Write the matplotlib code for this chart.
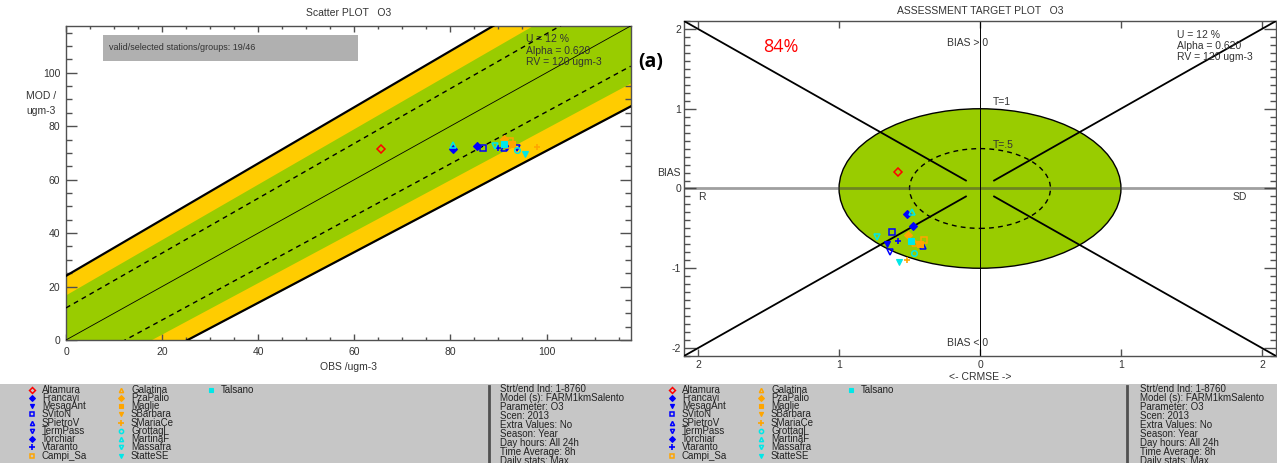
import numpy as np
import matplotlib
matplotlib.use("Agg")
import matplotlib.pyplot as plt
from matplotlib.patches import Ellipse, Rectangle
from matplotlib.ticker import MultipleLocator, FixedLocator, FuncFormatter

plt.rcParams['font.family'] = ['Liberation Sans', 'DejaVu Sans']
plt.rcParams['axes.unicode_minus'] = False

# ---- station statistics -------------------------------------------------
stations = ["Altamura", "Francavi", "MesagAnt", "SVitoN", "SPietroV", "TermPass",
            "Torchiar", "Vtaranto", "Campi_Sa", "Galatina", "PzaPalio", "Maglie",
            "SBarbara", "SMariaCe", "Grottagl", "MartinaF", "Massafra", "StatteSE",
            "Talsano"]
obs_mean = [65.6, 80.6, 91.8, 86.8, 91.2, 93.9, 85.5, 90.0, 92.3, 92.0, 91.2, 92.8,
            92.5, 98.0, 93.8, 80.6, 89.3, 95.5, 91.2]
mod_mean = [71.4, 71.6, 72.2, 71.9, 71.7, 71.8, 72.7, 71.7, 74.3, 73.0, 75.1, 73.2,
            73.4, 72.3, 71.2, 73.0, 72.6, 69.6, 73.4]
target_crmse = [-0.58, -0.516, -0.66, -0.624, -0.404, -0.635, -0.473, -0.58, -0.40,
                -0.46, -0.51, -0.425, -0.44, -0.516, -0.466, -0.48, -0.728, -0.577, -0.49]
target_bias = [0.21, -0.32, -0.70, -0.545, -0.725, -0.79, -0.475, -0.654, -0.64,
               -0.68, -0.58, -0.70, -0.69, -0.90, -0.81, -0.29, -0.61, -0.925, -0.66]

RED, BLUE, ORANGE, CYAN = "#ff0000", "#0000ff", "#ffa500", "#00e8e8"
colors = [RED] + [BLUE] * 7 + [ORANGE] * 6 + [CYAN] * 5
markers = ["D", "D", "v", "s", "^", "v", "D", "+", "s", "^", "D", "s", "v", "+",
           "o", "^", "v", "v", "s"]
filled = [False, True, True, False, False, False, True, True, False, False, True, True,
          True, True, False, False, False, True, True]

U_PCT = 12
ALPHA = 0.620
RV = 120
n_valid, n_selected = 19, 46
info_lines = ["Strt/end Ind: 1-8760", "Model (s): FARM1kmSalento", "Parameter: O3",
              "Scen: 2013", "Extra Values: No", "Season: Year", "Day hours: All 24h",
              "Time Average: 8h", "Daily stats: Max"]

GREEN = "#99cc00"
YELLOW = "#ffcc00"
AXCOL = "#505050"
TXT = "#333333"
W, H = 1277, 463

fig = plt.figure(figsize=(W / 100, H / 100), dpi=100)


def marker_kw(i, size):
    c = colors[i]
    m = markers[i]
    if m == "+":
        return dict(marker=m, color=c, markersize=size + 1, markeredgewidth=1.2, linestyle="none")
    if filled[i]:
        return dict(marker=m, markerfacecolor=c, markeredgecolor=c, markersize=size,
                    markeredgewidth=0.8, linestyle="none")
    return dict(marker=m, markerfacecolor="none", markeredgecolor=c, markersize=size,
                markeredgewidth=1.1, linestyle="none")


def style_axes(ax, xlen, ylen):
    for s in ax.spines.values():
        s.set_color(AXCOL)
        s.set_linewidth(1.0)
    ax.tick_params(axis="x", which="major", direction="in", length=xlen, width=1,
                   color=AXCOL, top=True, bottom=True, labelsize=7.5, pad=5,
                   labelcolor=TXT)
    ax.tick_params(axis="x", which="minor", direction="in", length=xlen * 0.55, width=1,
                   color=AXCOL, top=True, bottom=True)
    ax.tick_params(axis="y", which="major", direction="in", length=ylen, width=1,
                   color=AXCOL, left=True, right=True, labelsize=7.5, pad=4,
                   labelcolor=TXT)
    ax.tick_params(axis="y", which="minor", direction="in", length=ylen * 0.5, width=1,
                   color=AXCOL, left=True, right=True)


# ---- scatter plot -------------------------------------------------------
ax1 = fig.add_axes([66 / W, 1 - 340 / H, 564.6 / W, 314 / H])
lim = 117.5
o = np.linspace(0, lim, 300)


def half_width(x, k):
    return k * (12.0 + 0.026 * x)


ax1.fill_between(o, o - half_width(o, 2), o + half_width(o, 2), color=YELLOW, lw=0, zorder=1)
ax1.fill_between(o, o - half_width(o, np.sqrt(2)), o + half_width(o, np.sqrt(2)),
                 color=GREEN, lw=0, zorder=2)
for sgn in (-1, 1):
    ax1.plot(o, o + sgn * half_width(o, 2), color="black", lw=1.6, zorder=3)
    ax1.plot(o, o + sgn * half_width(o, 1), color="black", lw=1.0, ls=(0, (3.5, 3)), zorder=3)
ax1.plot(o, o, color="black", lw=0.6, zorder=3)

for i in range(len(stations)):
    ax1.plot(obs_mean[i], mod_mean[i], zorder=5, **marker_kw(i, 4))

ax1.set_xlim(0, lim)
ax1.set_ylim(0, lim)
ax1.xaxis.set_major_locator(MultipleLocator(20))
ax1.xaxis.set_minor_locator(MultipleLocator(5))
ax1.yaxis.set_major_locator(MultipleLocator(20))
ax1.yaxis.set_minor_locator(MultipleLocator(5))
style_axes(ax1, 4.5, 8)
ax1.set_title("Scatter PLOT   O3", fontsize=7.5, color=TXT, pad=7)
ax1.set_xlabel("OBS /ugm-3", fontsize=7.5, color=TXT, labelpad=4)
fig.text(26 / W, 1 - 96 / H, "MOD /", fontsize=7.5, color=TXT, va="center")
fig.text(26 / W, 1 - 111 / H, "ugm-3", fontsize=7.5, color=TXT, va="center")

ax1.add_patch(Rectangle(((103 - 66) / 564.6, 1 - (61 - 26) / 314),
                        (358 - 103) / 564.6, 26 / 314, transform=ax1.transAxes,
                        facecolor="#b0b0b0", edgecolor="none", zorder=6))
ax1.text((109 - 66) / 564.6, 1 - (48 - 26) / 314,
         f"valid/selected stations/groups: {n_valid}/{n_selected}",
         transform=ax1.transAxes, fontsize=6.5, color=TXT, va="center", zorder=7)
for j, line in enumerate([f"U = {U_PCT} %", f"Alpha = {ALPHA:.3f}", f"RV = {RV} ugm-3"]):
    ax1.text((526 - 66) / 564.6, 1 - (39 + 11.5 * j - 26) / 314, line,
             transform=ax1.transAxes, fontsize=7.5, color=TXT, va="center", zorder=7)

# ---- target plot --------------------------------------------------------
ax2 = fig.add_axes([684 / W, 1 - 356 / H, 592 / W, 335 / H])
tl = 2.1
ax2.add_patch(Ellipse((0, 0), 2, 2, facecolor=GREEN, edgecolor="black", lw=1.0, zorder=1))
ax2.add_patch(Ellipse((0, 0), 1, 1, facecolor="none", edgecolor="black", lw=1.0,
                      ls=(0, (3.5, 3)), zorder=2))
ax2.axhline(0, color="#404040", alpha=0.5, lw=2, zorder=2)
ax2.axvline(0, color="black", lw=0.7, zorder=2)
for sx in (-1, 1):
    for sy in (-1, 1):
        ax2.plot([sx * tl, sx * 0.1], [sy * tl, sy * 0.1], color="black", lw=1.3, zorder=3)

for i in range(len(stations)):
    ax2.plot(target_crmse[i], target_bias[i], zorder=5, **marker_kw(i, 4))

ax2.set_xlim(-tl, tl)
ax2.set_ylim(-tl, tl)
ax2.xaxis.set_major_locator(FixedLocator([-2, -1, 0, 1, 2]))
ax2.xaxis.set_major_formatter(FuncFormatter(lambda v, p: f"{abs(v):.0f}"))
ax2.yaxis.set_major_locator(FixedLocator([-2, -1, 0, 1, 2]))
ax2.yaxis.set_major_formatter(FuncFormatter(lambda v, p: f"{v:.0f}"))
ax2.yaxis.set_minor_locator(MultipleLocator(0.1))
style_axes(ax2, 5, 8.5)
ax2.tick_params(axis="x", which="major", pad=3)
ax2.tick_params(axis="y", which="major", pad=2)
ax2.set_title("ASSESSMENT TARGET PLOT   O3", fontsize=7.5, color=TXT, pad=5)
ax2.set_xlabel("<- CRMSE ->", fontsize=7.5, color=TXT, labelpad=1)
ax2.text(-0.005, (356 - 173) / 335, "BIAS", transform=ax2.transAxes, fontsize=7.5,
         color=TXT, ha="right", va="center")

txt = dict(fontsize=7.5, color=TXT, va="center", zorder=6)
ax2.text(-0.09, 1.82, "BIAS > 0", ha="center", **txt)
ax2.text(-0.09, -1.94, "BIAS < 0", ha="center", **txt)
ax2.text(-1.97, -0.11, "R", ha="center", **txt)
ax2.text(1.84, -0.11, "SD", ha="center", **txt)
ax2.text(0.09, 1.09, "T=1", ha="left", **txt)
ax2.text(0.09, 0.54, "T=.5", ha="left", **txt)
for j, line in enumerate([f"U = {U_PCT} %", f"Alpha = {ALPHA:.3f}", f"RV = {RV} ugm-3"]):
    ax2.text(1.40, 1.93 - 0.14 * j, line, ha="left", **txt)

inside = np.hypot(np.array(target_crmse), np.array(target_bias)) <= 1.0
pct = 100.0 * inside.sum() / len(stations)
ax2.text(-1.41, 1.775, f"{pct:.0f}%", color="red", fontsize=13, ha="center", va="center",
         family=["Open Sans", "DejaVu Sans"], zorder=6)
fig.text(651 / W, 1 - 62 / H, "(a)", fontsize=14, fontweight="bold", ha="center",
         va="center", family=["Open Sans", "DejaVu Sans"])

# ---- legend / info strips ----------------------------------------------
strip_top = 384
axl = fig.add_axes([0, 0, 1, (H - strip_top) / H])
axl.set_xlim(0, W)
axl.set_ylim(H, strip_top)
axl.axis("off")
axl.add_patch(Rectangle((0, strip_top), W, H - strip_top, facecolor="#c6c6c6",
                        edgecolor="none", zorder=0))

col_x = [31.8, 121.0, 210.6]
for offset, sep_x in ((0, 489), (640, 1127)):
    axl.plot([sep_x, sep_x], [strip_top + 2, H], color="#505050", lw=2, zorder=1)
    for i, name in enumerate(stations):
        col, row = divmod(i, 9)
        y = 389.7 + row * 8.25
        x = offset + col_x[col]
        axl.plot(x, y, zorder=2, **marker_kw(i, 3))
        axl.text(x + 10, y, name, fontsize=7, color="#222222", va="center", zorder=2)
    for j, line in enumerate(info_lines):
        axl.text(offset + 500.5, 389 + j * 9.0, line, fontsize=7,
                 color="#222222", va="center", zorder=2)

fig.savefig("out.png", dpi=100)
